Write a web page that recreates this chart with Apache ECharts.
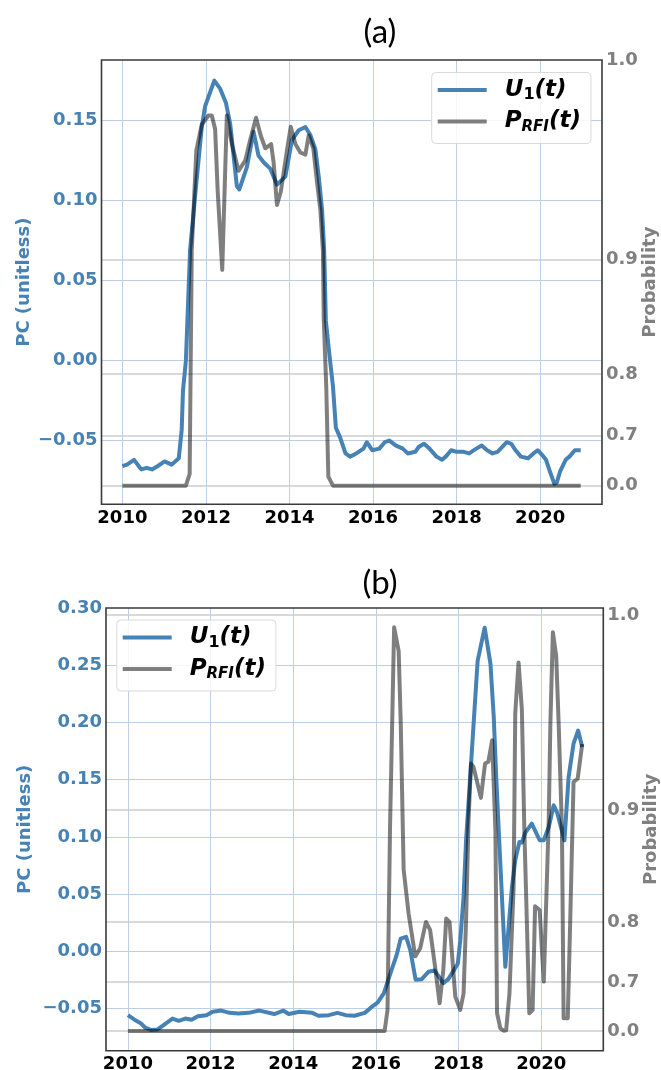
<!DOCTYPE html>
<html>
<head>
<meta charset="utf-8">
<script src="https://cdn.jsdelivr.net/npm/echarts@6/dist/echarts.min.js"></script>
<style>
  html, body { margin: 0; padding: 0; background: #fff; }
  #chart { width: 661px; height: 1070px; }
</style>
</head>
<body>
<div id="chart"></div>
<script>
// Tick positions
const yearTicks = [2010, 2012, 2014, 2016, 2018, 2020];
const pcTicksA = [-0.05, 0, 0.05, 0.10, 0.15];
const pcTicksB = [-0.05, 0, 0.05, 0.10, 0.15, 0.20, 0.25, 0.30];
const probTicks = [0.0, 0.7, 0.8, 0.9, 1.0];

// Panel (a): principal component U1(t) and RFI probability, [year, value]
const u1A = [
  [2010.00,-0.066],[2010.11,-0.065],[2010.28,-0.062],[2010.45,-0.068],[2010.58,-0.067],[2010.71,-0.068],
  [2010.84,-0.066],[2011.01,-0.063],[2011.18,-0.065],[2011.35,-0.061],[2011.42,-0.043],[2011.45,-0.019],
  [2011.52,0.000],[2011.62,0.069],[2011.77,0.111],[2011.90,0.146],[2011.98,0.159],[2012.20,0.175],
  [2012.34,0.170],[2012.48,0.161],[2012.58,0.148],[2012.74,0.109],[2012.80,0.107],[2012.98,0.121],
  [2013.14,0.143],[2013.26,0.128],[2013.38,0.124],[2013.54,0.120],[2013.70,0.110],[2013.82,0.113],
  [2013.90,0.115],[2014.06,0.138],[2014.22,0.144],[2014.38,0.146],[2014.50,0.141],[2014.62,0.132],
  [2014.70,0.115],[2014.78,0.094],[2014.83,0.069],[2014.87,0.025],[2014.95,0.005],[2015.04,-0.016],
  [2015.11,-0.042],[2015.21,-0.048],[2015.34,-0.058],[2015.45,-0.060],[2015.60,-0.058],[2015.77,-0.055],
  [2015.85,-0.051],[2015.98,-0.056],[2016.15,-0.055],[2016.28,-0.051],[2016.39,-0.050],[2016.54,-0.053],
  [2016.71,-0.055],[2016.83,-0.058],[2017.01,-0.057],[2017.09,-0.054],[2017.22,-0.052],[2017.35,-0.055],
  [2017.52,-0.060],[2017.65,-0.062],[2017.74,-0.060],[2017.87,-0.056],[2018.00,-0.057],[2018.17,-0.057],
  [2018.30,-0.058],[2018.47,-0.055],[2018.60,-0.053],[2018.73,-0.056],[2018.86,-0.058],[2018.98,-0.057],
  [2019.20,-0.051],[2019.31,-0.052],[2019.41,-0.056],[2019.54,-0.060],[2019.71,-0.061],[2019.84,-0.058],
  [2019.94,-0.056],[2020.05,-0.059],[2020.14,-0.062],[2020.23,-0.069],[2020.34,-0.077],[2020.40,-0.076],
  [2020.48,-0.069],[2020.61,-0.062],[2020.70,-0.060],[2020.83,-0.056],[2020.97,-0.056]
];
const prfiA = [
  [2010.00,0],[2011.52,0],[2011.61,0.55],[2011.66,0.906],[2011.77,0.961],[2011.90,0.973],[2012.06,0.977],
  [2012.14,0.977],[2012.22,0.971],[2012.28,0.941],[2012.39,0.893],[2012.50,0.977],[2012.62,0.964],
  [2012.78,0.951],[2012.94,0.956],[2013.06,0.966],[2013.20,0.976],[2013.31,0.968],[2013.42,0.962],
  [2013.56,0.964],[2013.62,0.955],[2013.70,0.933],[2013.79,0.940],[2013.94,0.961],[2014.03,0.972],
  [2014.14,0.964],[2014.26,0.960],[2014.38,0.959],[2014.46,0.968],[2014.57,0.962],[2014.66,0.945],
  [2014.74,0.930],[2014.80,0.906],[2014.82,0.855],[2014.88,0.784],[2014.93,0.526],[2015.04,0],[2020.97,0]
];

// Panel (b)
const u1B = [
  [2010.00,-0.056],[2010.16,-0.060],[2010.31,-0.063],[2010.42,-0.067],[2010.57,-0.069],[2010.72,-0.0685],
  [2010.93,-0.063],[2011.08,-0.059],[2011.23,-0.061],[2011.39,-0.059],[2011.54,-0.060],[2011.69,-0.057],
  [2011.90,-0.056],[2012.05,-0.053],[2012.26,-0.052],[2012.46,-0.054],[2012.67,-0.0545],[2012.92,-0.054],
  [2013.18,-0.052],[2013.54,-0.055],[2013.76,-0.052],[2013.89,-0.055],[2014.15,-0.053],[2014.46,-0.054],
  [2014.61,-0.0565],[2014.86,-0.056],[2015.07,-0.054],[2015.27,-0.056],[2015.48,-0.0565],[2015.73,-0.054],
  [2015.89,-0.049],[2016.04,-0.045],[2016.19,-0.037],[2016.35,-0.0195],[2016.50,-0.0035],[2016.60,0.011],
  [2016.73,0.0125],[2016.83,0.001],[2016.96,-0.025],[2017.11,-0.0245],[2017.27,-0.018],[2017.42,-0.017],
  [2017.63,-0.028],[2017.75,-0.0245],[2017.88,-0.017],[2017.98,-0.011],[2018.04,0.0096],[2018.12,0.0475],
  [2018.18,0.097],[2018.28,0.152],[2018.46,0.254],[2018.63,0.283],[2018.77,0.2515],[2018.85,0.205],
  [2018.91,0.152],[2018.97,0.106],[2019.13,-0.0137],[2019.29,0.056],[2019.37,0.0795],[2019.47,0.0955],
  [2019.53,0.095],[2019.61,0.1034],[2019.77,0.1116],[2019.96,0.097],[2020.06,0.097],[2020.18,0.1086],
  [2020.30,0.1276],[2020.38,0.1217],[2020.56,0.097],[2020.66,0.152],[2020.78,0.1815],[2020.89,0.193],
  [2020.99,0.1786]
];
const prfiB = [
  [2010.00,0],[2016.21,0],[2016.28,0.608],[2016.34,0.886],[2016.44,0.995],[2016.55,0.985],[2016.60,0.951],
  [2016.67,0.854],[2016.79,0.810],[2016.95,0.751],[2017.07,0.764],[2017.21,0.800],[2017.31,0.790],
  [2017.43,0.733],[2017.54,0.637],[2017.63,0.726],[2017.70,0.804],[2017.78,0.800],[2017.92,0.660],
  [2018.04,0.608],[2018.12,0.670],[2018.18,0.802],[2018.24,0.893],[2018.30,0.929],[2018.36,0.927],
  [2018.54,0.908],[2018.64,0.929],[2018.72,0.930],[2018.81,0.942],[2018.89,0.886],[2018.93,0.591],
  [2019.01,0.43],[2019.09,0.30],[2019.15,0.35],[2019.23,0.670],[2019.33,0.838],[2019.37,0.956],
  [2019.45,0.980],[2019.53,0.958],[2019.59,0.886],[2019.65,0.802],[2019.71,0.591],[2019.79,0.608],
  [2019.85,0.818],[2019.96,0.814],[2020.06,0.701],[2020.18,0.893],[2020.22,0.951],[2020.28,0.993],
  [2020.36,0.983],[2020.42,0.951],[2020.50,0.886],[2020.54,0.559],[2020.64,0.559],[2020.70,0.802],
  [2020.78,0.918],[2020.88,0.920],[2020.99,0.940]
];

// The probability axis is a power-law (p^6) scale
const probScale = p => Math.pow(p, 6);
const probLabel = v => Math.pow(Math.max(v, 0), 1 / 6).toFixed(1);
const pcLabel = v => (v < -1e-9 ? '\u2212' : '') + Math.abs(v).toFixed(2);

const BLUE = '#4682b4';
const GRAYTXT = '#808080';
const PRFI_COLOR = 'rgba(0,0,0,0.5)';
const FONT = 'DejaVu Sans';
const BLUE_GRID = '#bcd0e5';
const GRAY_GRID = '#cdcdcd';
const LINE_W = 4;

// Grid lines sit on tick values strictly inside the frame, so the frame edge stays dark
function inside(ticks, min, max) {
  const pad = (max - min) * 0.01;
  return ticks.filter(v => v > min + pad && v < max - pad);
}

function xAxisFor(gridIndex, min, max) {
  return {
    gridIndex, type: 'value', min, max,
    axisLine: { show: false },
    axisTick: { show: false, customValues: inside(yearTicks, min, max) },
    axisLabel: { customValues: yearTicks, formatter: v => String(Math.round(v)),
      fontSize: 18, fontWeight: 'bold', fontFamily: FONT, color: '#000', margin: 5 },
    splitLine: { show: true, lineStyle: { color: BLUE_GRID, width: 1 } }
  };
}
function pcAxisFor(gridIndex, min, max, ticks, nameGap) {
  return {
    gridIndex, type: 'value', position: 'left', min, max,
    name: 'PC (unitless)', nameLocation: 'middle', nameGap, nameMoveOverlap: false,
    nameTextStyle: { color: BLUE, fontSize: 18, fontWeight: 'bold', fontFamily: FONT },
    axisLine: { show: false },
    axisTick: { show: false, customValues: inside(ticks, min, max) },
    axisLabel: { customValues: ticks, formatter: pcLabel,
      fontSize: 18, fontWeight: 'bold', fontFamily: FONT, color: BLUE, margin: 4 },
    splitLine: { show: true, lineStyle: { color: BLUE_GRID, width: 1 } }
  };
}
function probAxisFor(gridIndex, min, max) {
  const ticks = probTicks.map(probScale);
  return {
    gridIndex, type: 'value', position: 'right', min, max,
    name: 'Probability', nameLocation: 'middle', nameGap: 39, nameRotate: 90, nameMoveOverlap: false,
    nameTextStyle: { color: GRAYTXT, fontSize: 18, fontWeight: 'bold', fontFamily: FONT },
    axisLine: { show: false },
    axisTick: { show: false, customValues: inside(ticks, min, max) },
    axisLabel: { customValues: ticks, formatter: probLabel,
      fontSize: 18, fontWeight: 'bold', fontFamily: FONT, color: GRAYTXT, margin: 4 },
    splitLine: { show: true, lineStyle: { color: GRAY_GRID, width: 1.5 } }
  };
}

const legendRich = {
  m: { fontSize: 23, fontWeight: 'bold', fontStyle: 'italic', fontFamily: FONT, color: '#000', lineHeight: 26 },
  d: { fontSize: 16, fontWeight: 'bold', fontFamily: FONT, color: '#000', lineHeight: 26, verticalAlign: 'bottom' },
  s: { fontSize: 15, fontWeight: 'bold', fontStyle: 'italic', fontFamily: FONT, color: '#000', lineHeight: 26, verticalAlign: 'bottom' }
};
function legendText(name) {
  return name.indexOf('U') === 0 ? '{m|U}{d|1}{m|(t)}' : '{m|P}{s|RFI}{m|(t)}';
}
function legendFor(names, left, top) {
  return {
    orient: 'vertical', left, top,
    data: names.map(n => ({ name: n, icon: 'rect' })),
    itemWidth: 49, itemHeight: 4, itemGap: 7,
    padding: [6, 10, 9, 6],
    backgroundColor: 'rgba(255,255,255,0.85)',
    borderColor: '#dadada', borderWidth: 1, borderRadius: 4,
    formatter: legendText,
    textStyle: { padding: [0, 0, 0, 13], rich: legendRich },
    selectedMode: false
  };
}

function lineSeries(name, xi, yi, data, color, z) {
  return {
    name, type: 'line', xAxisIndex: xi, yAxisIndex: yi, data,
    symbol: 'none', z, silent: true,
    itemStyle: { color },
    lineStyle: { color, width: LINE_W, join: 'round', cap: 'butt' }
  };
}

const gridFrame = { show: true, borderColor: '#3a3a3a', borderWidth: 1.6, z: 5,
  containLabel: false, outerBoundsMode: 'none' };

const chart = echarts.init(document.getElementById('chart'), null, { renderer: 'canvas' });
chart.setOption({
  animation: false,
  backgroundColor: '#fff',
  title: [
    { text: '(a)', left: 375, top: 11, textAlign: 'center',
      textStyle: { fontSize: 33, fontWeight: 'normal', fontFamily: 'Lato', color: '#000' } },
    { text: '(b)', left: 375, top: 562, textAlign: 'center',
      textStyle: { fontSize: 33, fontWeight: 'normal', fontFamily: 'Lato', color: '#000' } }
  ],
  grid: [
    Object.assign({ left: 101.5, top: 60, width: 500.5, height: 444.3 }, gridFrame),
    Object.assign({ left: 106, top: 608, width: 497.3, height: 442.7 }, gridFrame)
  ],
  xAxis: [ xAxisFor(0, 2009.5, 2021.48), xAxisFor(1, 2009.47, 2021.5) ],
  yAxis: [
    pcAxisFor(0, -0.0898, 0.1879, pcTicksA, 68),
    probAxisFor(0, -0.0437, 1.0),
    pcAxisFor(1, -0.0871, 0.3002, pcTicksB, 72),
    probAxisFor(1, -0.0474, 1.0168)
  ],
  legend: [
    legendFor(['U1 (a)', 'PRFI (a)'], 431.7, 72.5),
    legendFor(['U1 (b)', 'PRFI (b)'], 116.7, 620)
  ],
  series: [
    lineSeries('U1 (a)', 0, 0, u1A, BLUE, 3),
    lineSeries('PRFI (a)', 0, 1, prfiA.map(([t, p]) => [t, probScale(p)]), PRFI_COLOR, 4),
    lineSeries('U1 (b)', 1, 2, u1B, BLUE, 3),
    lineSeries('PRFI (b)', 1, 3, prfiB.map(([t, p]) => [t, probScale(p)]), PRFI_COLOR, 4)
  ]
});
</script>
</body>
</html>
